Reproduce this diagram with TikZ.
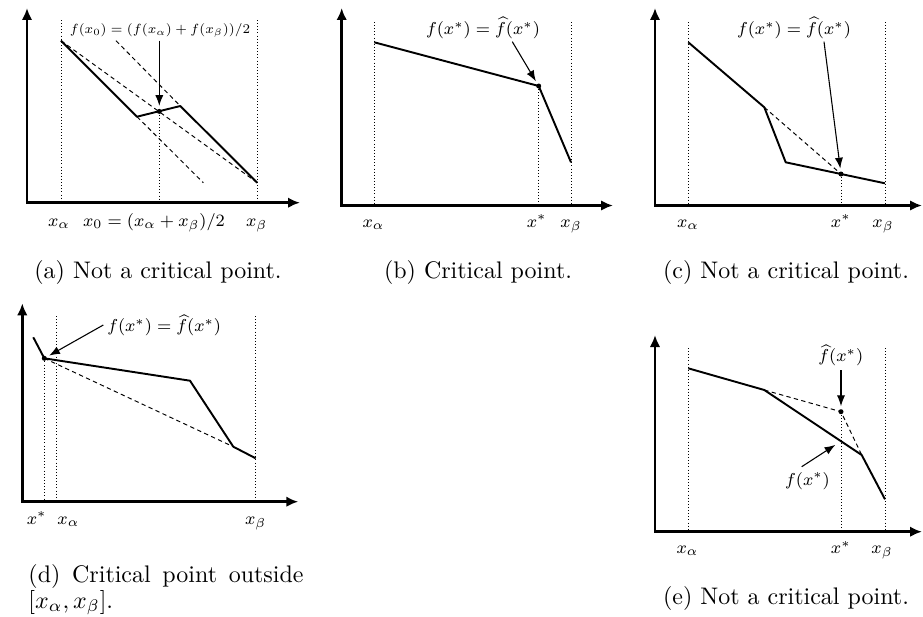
\documentclass[tikz,border=0pt]{standalone}
\usepackage{amsmath,amssymb}
\usetikzlibrary{arrows.meta}

\begin{document}
\begin{tikzpicture}[x=0.417pt,y=-0.417pt,>=Latex,
  axis/.style={line width=1.2pt,{Latex[length=5pt,width=4.4pt]}-{Latex[length=5pt,width=4.4pt]}},
  graph/.style={line width=0.8pt,line join=round},
  chord/.style={line width=0.4pt,dash pattern=on 1.8pt off 1.4pt},
  guide/.style={line width=0.4pt,dash pattern=on 0.4pt off 0.9pt},
  ann/.style={line width=0.45pt,-{Latex[length=4.5pt,width=3.4pt]},shorten >=2.3pt},
  lbl/.style={inner sep=0pt,anchor=base,font=\footnotesize,scale=0.9},
  subcap/.style={inner sep=0pt,anchor=base,font=\fontsize{10}{10.7}\selectfont}]
\useasboundingbox (0,0) rectangle (923,616);

\coordinate (a1) at (61,40.7);
\coordinate (a2) at (137,116.7);
\coordinate (a3) at (180.3,106);
\coordinate (a4) at (257.3,182.7);
\coordinate (a0) at (159.3,111.4);
\coordinate (ta) at (159.3,40.7);
\draw[axis] (27,8) |- (300,202.7);
\foreach \x/\y in {61/20,159.3/111.4,257.3/20}
  \draw[guide] (\x,\y) -- (\x,202.7);
\draw[chord] (a1) -- (a4);
\draw[chord] (116,40.7) -- (a3);
\draw[chord] (a2) -- (203.3,182.7);
\draw[graph] (a1) -- (a2) -- (a3) -- (a4);
\fill (a0) circle (2.5);
\node[lbl,font=\scriptsize,scale=0.88] (la) at (160,33.3) {$f(x_0)=(f(x_\alpha)+f(x_\beta))/2$};
\draw[ann] (ta) -- (a0);
\node[lbl] (xa-a) at (59,226.5) {$x_\alpha$};
\node[lbl] (x0-a) at (154,226.5) {$x_0=(x_\alpha+x_\beta)/2$};
\node[lbl] (xb-a) at (256.7,226.5) {$x_\beta$};
\node[subcap] (cap-a) at (158,278) {(a) Not a critical point.};

\coordinate (b1) at (374.3,42.3);
\coordinate (b2) at (538.7,86);
\coordinate (b3) at (571,162.3);
\coordinate (tb) at (512.3,41.7);
\draw[axis] (341.7,8) |- (613,205.5);
\foreach \x/\y in {374.3/22,538.7/86,571/22}
  \draw[guide] (\x,\y) -- (\x,205.5);
\draw[graph] (b1) -- (b2) -- (b3);
\fill (b2) circle (2.5);
\node[lbl] (lb) at (483,34.3) {$f(x^*)=\widehat{f}(x^*)$};
\draw[ann] (tb) -- (b2);
\node[lbl] (xa-b) at (373.5,227) {$x_\alpha$};
\node[lbl] (xs-b) at (536.7,227) {$x^*$};
\node[lbl] (xb-b) at (571,227) {$x_\beta$};
\node[subcap] (cap-b) at (478,278) {(b) Critical point.};

\coordinate (c1) at (688.3,42.3);
\coordinate (c2) at (764.3,107.3);
\coordinate (c3) at (785.7,162.3);
\coordinate (c4) at (841,174);
\coordinate (c5) at (885,183.3);
\coordinate (tc) at (824,41.7);
\draw[axis] (655,8) |- (922,205.5);
\foreach \x/\y in {688.3/22,841/174,885/22}
  \draw[guide] (\x,\y) -- (\x,205.5);
\draw[chord] (c2) -- (c4);
\draw[graph] (c1) -- (c2) -- (c3) -- (c4) -- (c5);
\fill (c4) circle (2.5);
\node[lbl] (lc) at (794,34.3) {$f(x^*)=\widehat{f}(x^*)$};
\draw[ann] (tc) -- (c4);
\node[lbl] (xa-c) at (688,227) {$x_\alpha$};
\node[lbl] (xs-c) at (840.8,227) {$x^*$};
\node[lbl] (xb-c) at (883,227) {$x_\beta$};
\node[subcap] (cap-c) at (786,278) {(c) Not a critical point.};

\coordinate (d0) at (33.3,337.3);
\coordinate (d1) at (44.3,358.3);
\coordinate (d2) at (190,380.7);
\coordinate (d3) at (233.3,446.7);
\coordinate (d4) at (255.7,458.3);
\coordinate (td) at (103.3,325);
\draw[axis] (22.3,303.3) |- (298.3,501.7);
\foreach \x/\y in {44.3/358.3,56.7/316,255.7/316}
  \draw[guide] (\x,\y) -- (\x,501.7);
\draw[chord] (d1) -- (d3);
\draw[graph] (d0) -- (d1) -- (d2) -- (d3) -- (d4);
\fill (d1) circle (2.5);
\node[lbl] (ld) at (164.2,331.7) {$f(x^*)=\widehat{f}(x^*)$};
\draw[ann] (td) -- (d1);
\node[lbl,anchor=base east] (xs-d) at (47,524) {$x^*$};
\node[lbl,anchor=base west] (xa-d) at (57,524) {$x_\alpha$};
\node[lbl] (xb-d) at (255.7,524) {$x_\beta$};
\node[subcap,anchor=north west,text width=114.7pt,align=justify] (cap-d) at (28,564)
  {(d) Critical point outside $[x_\alpha,x_\beta]$.};

\coordinate (e1) at (688.3,368.3);
\coordinate (e2) at (764.3,390);
\coordinate (e3) at (861.7,455);
\coordinate (e4) at (885,499.3);
\coordinate (e0) at (841,411.7);
\coordinate (ef) at (841,441.2);
\coordinate (te) at (841,370);
\coordinate (tf) at (801.7,466.7);
\draw[axis] (655,335) |- (922,531.7);
\foreach \x/\y in {688.3/348,841/411.7,885/348}
  \draw[guide] (\x,\y) -- (\x,531.7);
\draw[chord] (e2) -- (e0) -- (e3);
\draw[graph] (e1) -- (e2) -- (e3) -- (e4);
\fill (e0) circle (2.5);
\node[lbl] (le) at (840.8,361.7) {$\widehat{f}(x^*)$};
\draw[ann] (te) -- (e0);
\node[lbl] (lf) at (807.5,485) {$f(x^*)$};
\draw[ann,shorten >=2.8pt] (tf) -- (ef);
\node[lbl] (xa-e) at (687.5,553.3) {$x_\alpha$};
\node[lbl] (xs-e) at (840.8,553.3) {$x^*$};
\node[lbl] (xb-e) at (882,553.3) {$x_\beta$};
\node[subcap] (cap-e) at (786,604) {(e) Not a critical point.};
\end{tikzpicture}
\end{document}
